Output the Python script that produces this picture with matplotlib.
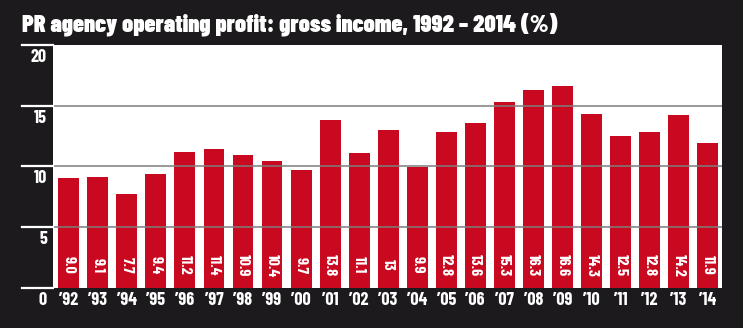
import matplotlib
matplotlib.use("Agg")
import matplotlib.pyplot as plt
from matplotlib import font_manager

years = ["92", "93", "94", "95", "96", "97", "98", "99", "00", "01", "02", "03",
         "04", "05", "06", "07", "08", "09", "10", "11", "12", "13", "14"]
values = [9.0, 9.1, 7.7, 9.4, 11.2, 11.4, 10.9, 10.4, 9.7, 13.8, 11.1, 13.0,
          9.9, 12.8, 13.6, 15.3, 16.3, 16.6, 14.3, 12.5, 12.8, 14.2, 11.9]
value_labels = ["9.0", "9.1", "7.7", "9.4", "11.2", "11.4", "10.9", "10.4", "9.7",
                "13.8", "11.1", "13", "9.9", "12.8", "13.6", "15.3", "16.3", "16.6",
                "14.3", "12.5", "12.8", "14.2", "11.9"]
y_ticks = [0, 5, 10, 15, 20]

BG = "#1c1a1d"
RED = "#c8091f"

# condensed face if there is one, otherwise the default
installed = {f.name for f in font_manager.fontManager.ttflist}
condensed = "Barlow Condensed" in installed
plt.rcParams["font.family"] = ["Barlow Condensed", "DejaVu Sans"] if condensed else ["DejaVu Sans"]
k = 1.0 if condensed else 0.72

W, H = 743, 328
fig = plt.figure(figsize=(W / 100, H / 100), dpi=100, facecolor=BG)
left, right, top, bottom = 53, 722, 45, 287.5
ax = fig.add_axes([left / W, (H - bottom) / H, (right - left) / W, (bottom - top) / H])
ax.set_facecolor("white")

x = list(range(len(values)))
ax.bar(x, values, width=0.72, color=RED, zorder=2)
ax.set_xlim(-0.545, len(values) - 1 + 0.5)
ax.set_ylim(0, 20)

# gridlines sit over the bars
for v in y_ticks[1:-1]:
    ax.axhline(v, color="#7d7d7d", lw=1.3, alpha=0.85, zorder=3)

for sp in ax.spines.values():
    sp.set_visible(False)
ax.set_xticks([])
ax.set_yticks([])

ytr = ax.get_yaxis_transform()
tick_len = 31 / (right - left)
for v in y_ticks:
    ax.plot([-tick_len, 0], [v, v], transform=ytr, color="white", lw=1.6,
            clip_on=False, zorder=4)
    ax.annotate(str(v), xy=(-0.009, v), xycoords=ytr, xytext=(0, -3),
                textcoords="offset points", ha="right", va="top",
                color="white", fontsize=13 * k, fontweight=700)

xtr = ax.get_xaxis_transform()
for i, (yr, val, lab) in enumerate(zip(years, values, value_labels)):
    ax.annotate("\u2019" + yr, xy=(i, 0), xycoords=xtr, xytext=(0, -3),
                textcoords="offset points", ha="center", va="top",
                color="white", fontsize=13 * k, fontweight=700)
    ax.text(i, 1.85, lab, rotation=270, ha="center", va="center",
            color="white", fontsize=11.5 * k, fontweight=700, zorder=5)

fig.text(22 / W, 1 - 24 / H, "PR agency operating profit: gross income, 1992 \u2013 2014 (%)",
         ha="left", va="center", color="white", fontsize=17.5 * k, fontweight=900)

fig.savefig("out.png", dpi=100, facecolor=BG)
